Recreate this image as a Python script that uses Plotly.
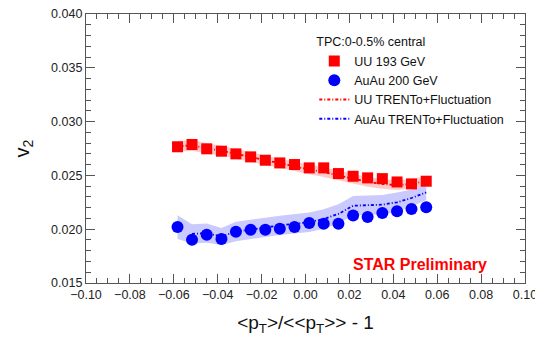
import plotly.graph_objects as go

# ---- data ----
x_vals = [-0.0583, -0.0517, -0.0450, -0.0383, -0.0317, -0.0250, -0.0183, -0.0117, -0.0050,
          0.0017, 0.0083, 0.0150, 0.0217, 0.0283, 0.0350, 0.0417, 0.0483, 0.0550]
uu_v2 = [0.02766, 0.02787, 0.02747, 0.02725, 0.02700, 0.02672, 0.02641, 0.02616, 0.02601,
         0.02570, 0.02570, 0.02517, 0.02492, 0.02477, 0.02470, 0.02439, 0.02421, 0.02446]
auau_v2 = [0.02020, 0.01901, 0.01948, 0.01908, 0.01976, 0.01994, 0.01994, 0.02004, 0.02020,
           0.02057, 0.02050, 0.02050, 0.02128, 0.02113, 0.02150, 0.02166, 0.02188, 0.02203]
uu_model = [0.02770, 0.02780, 0.02750, 0.02730, 0.02700, 0.02670, 0.02640, 0.02610, 0.02580,
            0.02555, 0.02530, 0.02500, 0.02470, 0.02440, 0.02420, 0.02410, 0.02420, 0.02450]
uu_model_err = [0.00050, 0.00050, 0.00048, 0.00046, 0.00045, 0.00045, 0.00045, 0.00045, 0.00045,
                0.00045, 0.00045, 0.00045, 0.00045, 0.00045, 0.00045, 0.00045, 0.00045, 0.00045]
auau_model = [0.02020, 0.01957, 0.01963, 0.01932, 0.01979, 0.01995, 0.02017, 0.02036, 0.02050,
              0.02065, 0.02095, 0.02142, 0.02218, 0.02225, 0.02228, 0.02250, 0.02290, 0.02342]
auau_model_err = [0.00110, 0.00090, 0.00090, 0.00080, 0.00090, 0.00090, 0.00090, 0.00090, 0.00090,
                  0.00090, 0.00090, 0.00090, 0.00090, 0.00090, 0.00090, 0.00090, 0.00080, 0.00070]
x_ticks = [-0.10, -0.08, -0.06, -0.04, -0.02, 0.00, 0.02, 0.04, 0.06, 0.08, 0.10]
y_ticks = [0.015, 0.020, 0.025, 0.030, 0.035, 0.040]

FONT = "Liberation Sans, Arial, Helvetica, sans-serif"
AX = "#555555"

def fmt(v, d):
    s = f"{v:.{d}f}"
    if s.startswith("-"):
        s = "\u2212" + s[1:]
    return s

fig = go.Figure()

def band(x, y, e, color):
    up = [a + b for a, b in zip(y, e)]
    lo = [a - b for a, b in zip(y, e)]
    fig.add_trace(go.Scatter(x=x, y=up, mode="lines", line=dict(width=0, color=color),
                             showlegend=False, hoverinfo="skip"))
    fig.add_trace(go.Scatter(x=x, y=lo, mode="lines", line=dict(width=0, color=color),
                             fill="tonexty", fillcolor=color, showlegend=False, hoverinfo="skip"))

band(x_vals, uu_model, uu_model_err, "rgba(255,60,60,0.28)")
band(x_vals, auau_model, auau_model_err, "rgba(90,90,255,0.32)")

fig.add_trace(go.Scatter(x=x_vals, y=uu_v2, mode="markers", name="UU 193 GeV",
                         marker=dict(symbol="square", size=11, color="#ff0000")))
fig.add_trace(go.Scatter(x=x_vals, y=auau_v2, mode="markers", name="AuAu 200 GeV",
                         marker=dict(symbol="circle", size=12, color="#0000ff")))
fig.add_trace(go.Scatter(x=x_vals, y=uu_model, mode="lines", name="UU TRENTo+Fluctuation",
                         line=dict(color="#ff0000", width=1.8, dash="3px,2px,1px,2px")))
fig.add_trace(go.Scatter(x=x_vals[1:], y=auau_model[1:], mode="lines", name="AuAu TRENTo+Fluctuation",
                         line=dict(color="#0000ff", width=1.8, dash="3px,2px,1px,2px")))

axis_common = dict(showgrid=False, zeroline=False, showline=True, linecolor=AX,
                   linewidth=1.2, mirror=True, ticks="inside", tickcolor=AX, automargin=False,
                   tickfont=dict(family=FONT, size=12.5, color="#222222"))

fig.update_xaxes(range=[-0.10, 0.10], tickvals=x_ticks, ticktext=[fmt(v, 2) for v in x_ticks],
                 ticklen=9, tickwidth=1.2, ticklabeloverflow="allow",
                 minor=dict(dtick=0.005, tick0=0, ticks="inside", ticklen=5, tickcolor=AX),
                 title=dict(text="<p<sub>T</sub>>/<<p<sub>T</sub>>> - 1",
                            font=dict(family=FONT, size=19, color="#111111"), standoff=14),
                 **axis_common)
fig.update_yaxes(range=[0.015, 0.040], tickvals=y_ticks, ticktext=[fmt(v, 3) for v in y_ticks],
                 ticklen=9, tickwidth=1.2,
                 minor=dict(dtick=0.001, tick0=0, ticks="inside", ticklen=5, tickcolor=AX),
                 title=dict(text="v<sub>2</sub>", font=dict(family=FONT, size=20, color="#111111"),
                            standoff=16),
                 **axis_common)

# mirrored tick axes on top and right
fig.update_layout(
    xaxis2=dict(overlaying="x", side="top", range=[-0.10, 0.10], tickvals=x_ticks,
                showticklabels=False, ticks="inside", ticklen=9, tickwidth=1.2, tickcolor=AX,
                minor=dict(dtick=0.005, tick0=0, ticks="inside", ticklen=5, tickcolor=AX),
                showgrid=False, zeroline=False, showline=False, automargin=False),
    yaxis2=dict(overlaying="y", side="right", range=[0.015, 0.040], tickvals=y_ticks,
                showticklabels=False, ticks="inside", ticklen=9, tickwidth=1.2, tickcolor=AX,
                minor=dict(dtick=0.001, tick0=0, ticks="inside", ticklen=5, tickcolor=AX),
                showgrid=False, zeroline=False, showline=False, automargin=False),
)
fig.add_trace(go.Scatter(x=[None], y=[None], xaxis="x2", yaxis="y2", showlegend=False,
                         hoverinfo="skip"))

fig.add_annotation(x=0.76, y=0.067, xref="paper", yref="paper", xanchor="center", yanchor="middle",
                   text="<b>STAR Preliminary</b>", showarrow=False,
                   font=dict(family=FONT, size=16, color="#ff0000"))

fig.update_layout(
    width=535, height=343,
    margin=dict(l=86, r=10, t=14, b=60),
    plot_bgcolor="white", paper_bgcolor="white",
    showlegend=True,
    legend=dict(x=0.52, y=0.94, xanchor="left", yanchor="top", traceorder="normal",
                bgcolor="rgba(0,0,0,0)", borderwidth=0,
                title=dict(text="TPC:0-0.5% central", font=dict(family=FONT, size=12.5, color="#111111")),
                font=dict(family=FONT, size=12.5, color="#111111"),
                tracegroupgap=0, itemwidth=30),
)

fig.write_html("out.html")
